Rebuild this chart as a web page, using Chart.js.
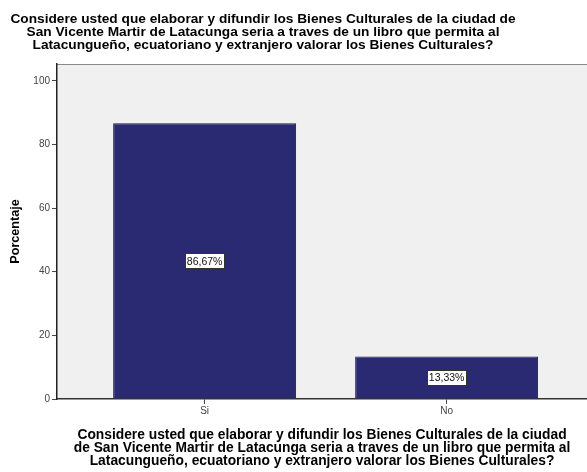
<!DOCTYPE html>
<html>
<head>
<meta charset="utf-8">
<script src="https://cdn.jsdelivr.net/npm/chart.js@4/dist/chart.umd.min.js"></script>
<style>
  body { margin: 0; background: #fff; }
  #wrap { width: 587px; height: 472px; }
</style>
</head>
<body>
<div id="wrap"><canvas id="barChart" width="587" height="472"></canvas></div>
<script>
const categories = ['Si', 'No'];
const percentages = [86.67, 13.33];
const yTicks = [0, 20, 40, 60, 80, 100];
const titleLines = [
    'Considere usted que elaborar y difundir los Bienes Culturales de la ciudad de',
    'San Vicente Martir de Latacunga seria a traves de un libro que permita al',
    'Latacungueño, ecuatoriano y extranjero valorar los Bienes Culturales?'
];
const xTitleLines = [
    'Considere usted que elaborar y difundir los Bienes Culturales de la ciudad',
    'de San Vicente Martir de Latacunga seria a traves de un libro que permita al',
    'Latacungueño, ecuatoriano y extranjero valorar los Bienes Culturales?'
];

const FONT = "'Liberation Sans', Arial, sans-serif";

const fmtPct = v => v.toFixed(2).replace('.', ',') + '%';

// grey plot background plus the thin top frame line
const plotBackground = {
    id: 'plotBackground',
    beforeDraw(chart) {
        const { ctx, chartArea: a } = chart;
        ctx.save();
        ctx.fillStyle = '#f0f0f0';
        ctx.fillRect(a.left, a.top, a.right - a.left, a.bottom - a.top);
        ctx.strokeStyle = '#8a8a8a';
        ctx.lineWidth = 1;
        ctx.beginPath();
        ctx.moveTo(a.left, a.top + 0.5);
        ctx.lineTo(a.right, a.top + 0.5);
        ctx.stroke();
        ctx.restore();
    }
};

// main title, three bold centered lines
const topTitle = {
    id: 'topTitle',
    afterDraw(chart) {
        const ctx = chart.ctx;
        ctx.save();
        ctx.font = 'bold 13.7px ' + FONT;
        ctx.fillStyle = '#000';
        ctx.textAlign = 'center';
        ctx.textBaseline = 'middle';
        titleLines.forEach((line, i) => {
            ctx.fillText(line, 263, 19 + i * 13);
        });
        ctx.restore();
    }
};

// white boxed value labels in the middle of each bar
const valueBoxes = {
    id: 'valueBoxes',
    afterDatasetsDraw(chart) {
        const ctx = chart.ctx;
        const meta = chart.getDatasetMeta(0);
        ctx.save();
        ctx.font = '10.5px ' + FONT;
        ctx.textAlign = 'center';
        ctx.textBaseline = 'middle';
        meta.data.forEach((bar, i) => {
            const text = fmtPct(percentages[i]);
            const cy = (bar.y + bar.base) / 2;
            const w = Math.round(ctx.measureText(text).width + 3);
            const h = 15;
            const bx = Math.round(bar.x - w / 2) + 0.5;
            const by = Math.round(cy - h / 2) + 0.5;
            ctx.fillStyle = '#fff';
            ctx.fillRect(bx, by, w, h);
            ctx.strokeStyle = '#333';
            ctx.lineWidth = 1;
            ctx.strokeRect(bx, by, w, h);
            ctx.fillStyle = '#111';
            ctx.fillText(text, bar.x, cy + 1);
        });
        ctx.restore();
    }
};

new Chart(document.getElementById('barChart'), {
    type: 'bar',
    data: {
        datasets: [{
            data: percentages.map((v, i) => ({ x: i, y: v })),
            backgroundColor: '#2a2a72',
            borderColor: '#1c1c44',
            borderWidth: 1,
            categoryPercentage: 1,
            barPercentage: 0.756
        }]
    },
    options: {
        responsive: false,
        devicePixelRatio: 1,
        animation: false,
        layout: { padding: { top: 64, left: 0, right: 0, bottom: 0 } },
        plugins: {
            legend: { display: false },
            tooltip: { enabled: false }
        },
        scales: {
            x: {
                type: 'linear',
                offset: false,
                min: -0.61,
                max: 1.58,
                afterBuildTicks: scale => { scale.ticks = categories.map((c, i) => ({ value: i })); },
                afterFit: scale => { scale.height = 73; },
                ticks: {
                    callback: v => categories[v],
                    font: { family: FONT, size: 10 },
                    color: '#444',
                    padding: 1,
                    maxRotation: 0
                },
                grid: { offset: false, drawOnChartArea: false, drawTicks: true, tickLength: 5, color: '#444' },
                border: { display: true, color: '#333', width: 1.5 },
                title: {
                    display: true,
                    text: xTitleLines,
                    font: { family: FONT, size: 13.8, weight: 'bold', lineHeight: 0.95 },
                    color: '#000',
                    padding: { top: 0, bottom: 4 }
                }
            },
            y: {
                min: 0,
                max: 105.3,
                afterBuildTicks: scale => { scale.ticks = yTicks.map(v => ({ value: v })); },
                afterFit: scale => { scale.width = 57; },
                ticks: {
                    font: { family: FONT, size: 10 },
                    color: '#444',
                    padding: 2
                },
                grid: { drawOnChartArea: false, drawTicks: true, tickLength: 5, color: '#444' },
                border: { display: true, color: '#222', width: 1.5 },
                title: {
                    display: true,
                    text: 'Porcentaje',
                    font: { family: FONT, size: 12.6, weight: 'bold' },
                    color: '#000',
                    padding: { top: 8, bottom: 0 }
                }
            }
        }
    },
    plugins: [plotBackground, topTitle, valueBoxes]
});
</script>
</body>
</html>
